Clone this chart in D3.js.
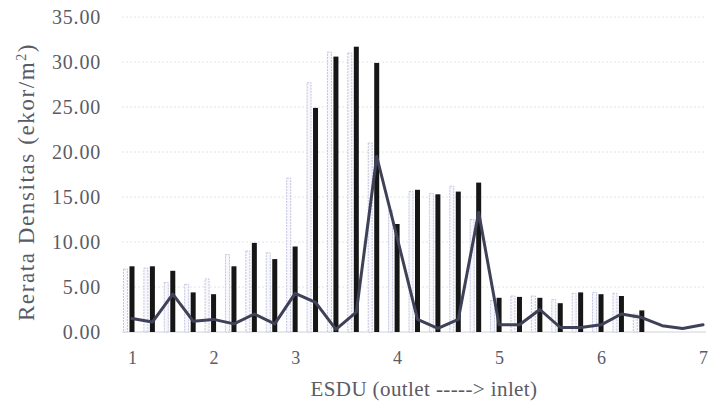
<!DOCTYPE html>
<html>
<head>
<meta charset="utf-8">
<script src="https://cdn.jsdelivr.net/npm/d3@7"></script>
<style>
  body { margin: 0; background: #fff; }
</style>
</head>
<body>
<svg></svg>
<script>
var W = 710, H = 409;

// ESDU categories (outlet -> inlet)
var esdu = ["1","1.25","1.5","1.75","2","2.25","2.5","2.75","3","3.2","3.4","3.6","3.8",
            "4","4.2","4.4","4.6","4.8","5","5.2","5.4","5.6","5.8","6","6.2","6.4","6.6","6.8","7"];
// light (outlined) bars
var seriesLight = [7.0, 7.1, 5.5, 5.3, 5.9, 8.6, 9.0, 8.8, 17.1, 27.7, 31.1, 31.0, 21.0,
                   13.5, 15.6, 15.4, 16.2, 12.5, 3.5, 4.0, 4.0, 3.6, 4.3, 4.4, 4.3, 2.0];
// black bars
var seriesDark = [7.3, 7.3, 6.8, 4.4, 4.2, 7.3, 9.9, 8.1, 9.5, 24.9, 30.6, 31.7, 29.9,
                  12.0, 15.8, 15.3, 15.6, 16.6, 3.8, 3.9, 3.8, 3.2, 4.4, 4.2, 4.0, 2.4];
// line
var seriesLine = [1.5, 1.1, 4.2, 1.2, 1.4, 0.9, 2.0, 0.9, 4.3, 3.3, 0.3, 2.2, 19.5,
                  10.5, 1.4, 0.4, 1.4, 13.3, 0.8, 0.8, 2.5, 0.5, 0.5, 0.8, 2.0, 1.6, 0.7, 0.4, 0.8];
var yTicks = [0, 5, 10, 15, 20, 25, 30, 35];
var xTickLabels = ["1","2","3","4","5","6","7"];

var serif = "Liberation Serif";
var textCol = "#5b5b66";

var svg = d3.select("svg").attr("width", W).attr("height", H);

var x = d3.scalePoint().domain(esdu).range([132, 703]);
var y = d3.scaleLinear().domain([0, 35]).range([332, 17]);

// grid
svg.append("g").selectAll("line")
  .data(yTicks)
  .join("line")
  .attr("x1", 122).attr("x2", 706)
  .attr("y1", function(d){ return y(d); })
  .attr("y2", function(d){ return y(d); })
  .attr("stroke", function(d){ return d === 0 ? "#d2d2da" : "#e4e4ea"; })
  .attr("stroke-width", 1)
  .attr("stroke-dasharray", function(d){ return d === 0 ? null : "2,2"; });

// y tick labels
var yAxis = d3.axisLeft(y).tickValues(yTicks).tickFormat(d3.format(".2f")).tickSize(0).tickPadding(0);
var gy = svg.append("g").attr("transform", "translate(101,0)").call(yAxis);
gy.attr("font-family", serif).attr("font-size", 20);
gy.select(".domain").remove();
gy.selectAll("text").attr("fill", textCol).style("letter-spacing", "0.8px");

// x tick labels
var xAxis = d3.axisBottom(x).tickValues(xTickLabels).tickSize(0).tickPadding(0);
var gx = svg.append("g").attr("transform", "translate(0,351)").call(xAxis);
gx.attr("font-family", serif).attr("font-size", 18);
gx.select(".domain").remove();
gx.selectAll("text").attr("fill", textCol);

// light bars
svg.append("g").selectAll("rect")
  .data(seriesLight)
  .join("rect")
  .attr("x", function(d, i){ return x(esdu[i]) - 8.5; })
  .attr("width", 4)
  .attr("y", function(d){ return y(d); })
  .attr("height", function(d){ return y(0) - y(d); })
  .attr("fill", "#f7f7fc")
  .attr("stroke", "#c2c5de")
  .attr("stroke-width", 1)
  .attr("stroke-dasharray", "2,1");

// dark bars
svg.append("g").selectAll("rect")
  .data(seriesDark)
  .join("rect")
  .attr("x", function(d, i){ return x(esdu[i]) - 2.5; })
  .attr("width", 5)
  .attr("y", function(d){ return y(d); })
  .attr("height", function(d){ return y(0) - y(d); })
  .attr("fill", "#161616");

// line
var lineMaker = d3.line()
  .x(function(d, i){ return x(esdu[i]); })
  .y(function(d){ return y(d); });

svg.append("path")
  .datum(seriesLine)
  .attr("d", lineMaker)
  .attr("fill", "none")
  .attr("stroke", "#3f4158")
  .attr("stroke-width", 3)
  .attr("stroke-linejoin", "round")
  .attr("stroke-linecap", "round");

// axis titles
svg.append("text")
  .attr("transform", "translate(34,182)rotate(-90)")
  .attr("text-anchor", "middle")
  .attr("font-family", serif)
  .attr("font-size", 23)
  .attr("fill", textCol)
  .style("letter-spacing", "1.6px")
  .html('Rerata Densitas (ekor/m<tspan dy="-8" font-size="14">2</tspan><tspan dy="8">)</tspan>');

svg.append("text")
  .attr("x", 424).attr("y", 396)
  .attr("text-anchor", "middle")
  .attr("font-family", serif)
  .attr("font-size", 21)
  .attr("fill", textCol)
  .style("letter-spacing", "0.4px")
  .text("ESDU (outlet -----> inlet)");
</script>
</body>
</html>
